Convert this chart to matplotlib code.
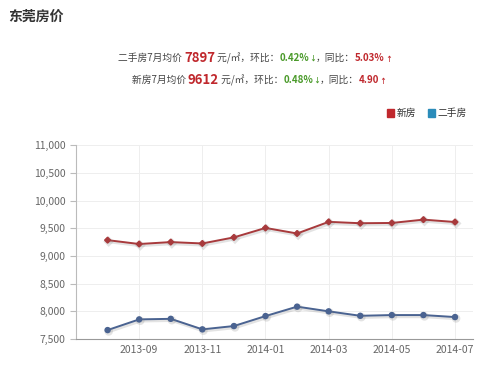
import numpy as np
import matplotlib.pyplot as plt
import matplotlib.patheffects as pe
from matplotlib.ticker import FuncFormatter

plt.rcParams['font.family'] = ['Noto Sans CJK SC', 'DejaVu Sans']

months = ["2013-08", "2013-09", "2013-10", "2013-11", "2013-12", "2014-01",
          "2014-02", "2014-03", "2014-04", "2014-05", "2014-06", "2014-07"]
new_price = [9285, 9215, 9250, 9225, 9335, 9505, 9405, 9615, 9590, 9595, 9655, 9612]
used_price = [7662, 7855, 7865, 7675, 7735, 7915, 8085, 8000, 7920, 7933, 7933, 7897]
tick_months = ["2013-09", "2013-11", "2014-01", "2014-03", "2014-05", "2014-07"]

red_line = "#a83a3c"
blue_line = "#4a6391"
red_leg = "#c0282d"
blue_leg = "#2b8cba"

fig = plt.figure(figsize=(5, 3.73), dpi=100)
ax = fig.add_axes([0.152, 0.091, 0.794, 0.520])

x = np.arange(len(months))
shadow = [pe.SimpleLineShadow(offset=(0.8, -1), shadow_color="gray", alpha=0.22, linewidth=2.5), pe.Normal()]
ax.plot(x, new_price, color=red_line, lw=1.4, marker="D", ms=3.0, path_effects=shadow, zorder=3)
ax.plot(x, used_price, color=blue_line, lw=1.4, marker="o", ms=3.6, path_effects=shadow, zorder=3)

ax.set_ylim(7500, 11000)
ax.set_yticks(np.arange(7500, 11001, 500))
ax.yaxis.set_major_formatter(FuncFormatter(lambda v, p: f"{int(v):,}"))
ax.set_xlim(-1, 11.57)
ax.set_xticks([months.index(m) for m in tick_months])
ax.set_xticklabels(tick_months)

ax.grid(True, color="#eeeeee", lw=0.7)
ax.set_axisbelow(True)
for s in ["top", "right"]:
    ax.spines[s].set_visible(False)
ax.spines["left"].set_color("#bbbbbb")
ax.spines["bottom"].set_color("#999999")
ax.tick_params(axis="y", colors="#bbbbbb", labelcolor="#666666", labelsize=7.5, length=4, width=0.8)
ax.tick_params(axis="x", colors="#bbbbbb", labelcolor="#666666", labelsize=7.5, length=0, pad=4)

fig.text(0.016, 0.955, "东莞房价", fontsize=10, fontweight="bold", color="#333333", va="center")

renderer = fig.canvas.get_renderer()


def rich_line(y, pieces, center):
    # draw pieces one after the other, centred as a whole
    texts = []
    total = 0
    for s, color, size, weight in pieces:
        t = fig.text(0, y, s, color=color, fontsize=size, fontweight=weight, va="center")
        w = t.get_window_extent(renderer).width
        texts.append((t, w))
        total += w
    xpos = center - total / 2
    for t, w in texts:
        t.set_x(xpos / fig.bbox.width)
        xpos += w


dark = "#444444"
green = "#4a9a2a"
red = "#c0282d"
rich_line(1 - 58 / 373, [("二手房7月均价 ", dark, 7, "normal"), ("7897", red, 9.5, "bold"),
                         (" 元/㎡，环比：", dark, 7, "normal"), ("0.42%", green, 7, "bold"),
                         ("↓", green, 5, "bold"),
                         ("，同比：", dark, 7, "normal"), ("5.03%", red, 7, "bold"),
                         ("↑", red, 5, "bold")], 255)
rich_line(1 - 80 / 373, [("新房7月均价 ", dark, 7, "normal"), ("9612", red, 9.5, "bold"),
                         (" 元/㎡，环比：", dark, 7, "normal"), ("0.48%", green, 7, "bold"),
                         ("↓", green, 5, "bold"),
                         ("，同比：", dark, 7, "normal"), ("4.90", red, 7, "bold"),
                         ("↑", red, 5, "bold")], 259)

# legend
ly = 1 - 113 / 373
fig.patches.append(plt.Rectangle((387 / 500, ly - 0.0095), 0.014, 0.019, color=red_leg, transform=fig.transFigure))
fig.text(397 / 500, ly, "新房", fontsize=7, color="#333333", va="center")
fig.patches.append(plt.Rectangle((428 / 500, ly - 0.0095), 0.014, 0.019, color=blue_leg, transform=fig.transFigure))
fig.text(438 / 500, ly, "二手房", fontsize=7, color="#333333", va="center")

fig.savefig("out.png", dpi=100)
